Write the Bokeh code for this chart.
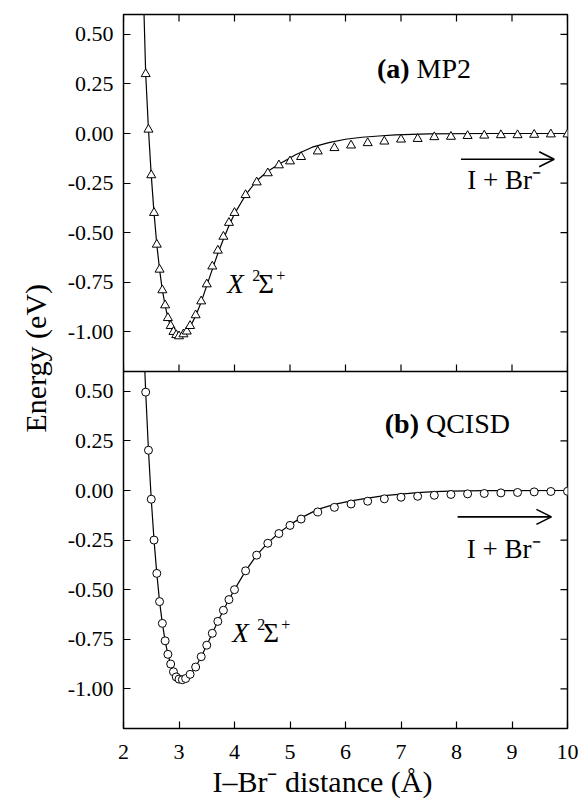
from bokeh.plotting import figure
from bokeh.models import (Range1d, LinearAxis, FixedTicker, CustomJSTickFormatter,
                          Span, Arrow, OpenHead, Title)
from bokeh.core.properties import value
from bokeh.embed import file_html
from bokeh.resources import INLINE

FONT = "Liberation Serif"

# ---------------- data ----------------
X_TICKS = [2, 3, 4, 5, 6, 7, 8, 9, 10]
E_TICKS = [-1.0, -0.75, -0.5, -0.25, 0.0, 0.25, 0.5]
X_MIN, X_MAX = 2.0, 10.0
E_MIN, E_MAX = -1.2, 0.6

# (a) MP2 points (triangles)
mp2_r = [2.40, 2.45, 2.50, 2.55, 2.60, 2.65, 2.70, 2.75, 2.80, 2.85, 2.90, 2.95, 3.00,
         3.08, 3.14, 3.20, 3.30, 3.40, 3.50, 3.60, 3.70, 3.80, 3.90, 4.00,
         4.20, 4.40, 4.60, 4.80, 5.00, 5.20,
         5.50, 5.80, 6.10, 6.40, 6.70, 7.00, 7.30, 7.60, 7.90, 8.20, 8.50, 8.80,
         9.10, 9.40, 9.70, 10.00]
mp2_e = [0.30, 0.02, -0.21, -0.40, -0.56, -0.686, -0.79, -0.866, -0.93, -0.97, -1.00, -1.016, -1.022,
         -1.012, -0.998, -0.97, -0.916, -0.846, -0.76, -0.67, -0.59, -0.52, -0.45, -0.40,
         -0.31, -0.246, -0.20, -0.16, -0.14, -0.118,
         -0.09, -0.073, -0.06, -0.048, -0.04, -0.03, -0.027, -0.018, -0.016, -0.012, -0.01, -0.008,
         -0.008, -0.006, -0.004, -0.004]
# (a) MP2 fitted curve
mp2_fit_r = [2.37, 2.40, 2.45, 2.50, 2.55, 2.60, 2.65, 2.70, 2.75, 2.80, 2.85, 2.90, 2.95, 3.00,
             3.05, 3.10, 3.20, 3.30, 3.40, 3.50, 3.60, 3.70, 3.80, 3.90, 4.00,
             4.20, 4.40, 4.60, 4.80, 5.10, 5.40, 5.70, 6.00, 6.30, 6.60, 6.90, 7.50, 8.50, 10.00]
mp2_fit_e = [0.60, 0.30, 0.02, -0.21, -0.40, -0.56, -0.686, -0.79, -0.866, -0.93, -0.972, -1.003,
             -1.02, -1.027, -1.024, -1.012, -0.975, -0.92, -0.85, -0.767, -0.685, -0.605, -0.533,
             -0.465, -0.405, -0.31, -0.238, -0.19, -0.155, -0.107, -0.069, -0.046, -0.029,
             -0.019, -0.0125, -0.007, -0.002, 0.0, 0.0]

# (b) QCISD points (circles)
qc_r = [2.40, 2.45, 2.50, 2.55, 2.60, 2.65, 2.70, 2.75, 2.80, 2.85, 2.90, 2.95, 3.00,
        3.06, 3.12, 3.20, 3.30, 3.40, 3.50, 3.60, 3.70, 3.80, 3.90, 4.00,
        4.20, 4.40, 4.60, 4.80, 5.00, 5.20,
        5.50, 5.80, 6.10, 6.40, 6.70, 7.00, 7.30, 7.60, 7.90, 8.20, 8.50, 8.80,
        9.10, 9.40, 9.70, 10.00]
qc_e = [0.496, 0.203, -0.044, -0.25, -0.418, -0.56, -0.67, -0.758, -0.826, -0.875, -0.914, -0.94, -0.951,
        -0.954, -0.948, -0.927, -0.89, -0.838, -0.78, -0.72, -0.66, -0.604, -0.55, -0.50,
        -0.405, -0.326, -0.266, -0.217, -0.176, -0.144,
        -0.108, -0.085, -0.068, -0.054, -0.042, -0.034, -0.029, -0.024, -0.020, -0.017, -0.015, -0.012,
        -0.010, -0.007, -0.005, -0.004]
# (b) QCISD fitted curve
qc_fit_r = [2.385, 2.40, 2.45, 2.50, 2.55, 2.60, 2.65, 2.70, 2.75, 2.80, 2.85, 2.90, 2.95, 3.00,
            3.05, 3.10, 3.20, 3.30, 3.40, 3.50, 3.60, 3.70, 3.80, 3.90, 4.00,
            4.20, 4.40, 4.60, 4.80, 5.00, 5.20, 5.50, 5.80, 6.10, 6.40, 6.70, 7.00, 7.30,
            7.60, 7.90, 8.50, 10.00]
qc_fit_e = [0.60, 0.496, 0.203, -0.044, -0.25, -0.418, -0.56, -0.67, -0.758, -0.826, -0.875, -0.914,
            -0.94, -0.952, -0.955, -0.95, -0.927, -0.89, -0.838, -0.78, -0.72, -0.66, -0.604,
            -0.55, -0.50, -0.405, -0.326, -0.264, -0.214, -0.172, -0.138, -0.095, -0.07,
            -0.052, -0.038, -0.026, -0.018, -0.011, -0.006, -0.003, -0.001, 0.0]

# ---------------- figure ----------------
SPAN = E_MAX - E_MIN
W, H = 578, 802
ML, MR, MT, MB = 123, 11, 14, 74
p = figure(width=W, height=H, output_backend="svg", toolbar_location=None,
           x_range=Range1d(X_MIN, X_MAX), y_range=Range1d(E_MIN, E_MAX + SPAN),
           x_axis_location=None, y_axis_location=None,
           min_border_left=ML, min_border_right=MR, min_border_top=MT, min_border_bottom=MB)
p.extra_y_ranges = {"top": Range1d(E_MIN - SPAN, E_MAX)}
p.xgrid.grid_line_color = None
p.ygrid.grid_line_color = None
p.outline_line_color = "black"
p.outline_line_width = 1.5
p.background_fill_color = "white"
p.border_fill_color = "white"

TICK_IN = 7
frame_w = W - ML - MR
frame_h = H - MT - MB
tick_dx = (X_MAX - X_MIN) / frame_w * TICK_IN
tick_dy = 2 * (E_MAX - E_MIN) / frame_h * TICK_IN


def style_axis(ax):
    ax.major_tick_in = TICK_IN
    ax.major_tick_out = 0
    ax.major_tick_line_color = "black"
    ax.major_tick_line_width = 1.2
    ax.minor_tick_line_color = None
    ax.axis_line_color = None
    ax.major_label_text_font = FONT
    ax.major_label_text_font_style = "normal"
    ax.major_label_text_color = "black"


y_all_ticks = E_TICKS + [t + SPAN for t in E_TICKS]
fmt = CustomJSTickFormatter(args=dict(span=SPAN, split=E_MAX),
                            code="const v = tick > split + 1e-9 ? tick - span : tick; return v.toFixed(2);")

bottom = LinearAxis(ticker=FixedTicker(ticks=X_TICKS))
style_axis(bottom)
bottom.major_label_text_font_size = "22px"
bottom.major_label_standoff = 16
p.add_layout(bottom, "below")

left = LinearAxis(ticker=FixedTicker(ticks=y_all_ticks), formatter=fmt)
style_axis(left)
left.major_label_text_font_size = "22px"
left.major_label_standoff = 10
p.add_layout(left, "left")

# axis titles
xt = Title(text="I\u2013Br\u207b distance (\u00c5)", align="left", offset=89,
           text_font=FONT, text_font_size="30px", text_font_style="normal",
           text_color="black", standoff=2)
p.add_layout(xt, "below")
yt = Title(text="Energy (eV)", align="left", offset=296,
           text_font=FONT, text_font_size="30px", text_font_style="normal",
           text_color="black", standoff=26)
p.add_layout(yt, "left")

# inward ticks on the top and right frame edges, and on the panel boundary
p.segment(x0=X_TICKS, y0=[E_MAX] * len(X_TICKS), x1=X_TICKS,
          y1=[E_MAX - tick_dy] * len(X_TICKS), line_color="black", line_width=1.2,
          y_range_name="top")
p.segment(x0=X_TICKS, y0=[E_MAX] * len(X_TICKS), x1=X_TICKS,
          y1=[E_MAX + tick_dy] * len(X_TICKS), line_color="black", line_width=1.2)
p.segment(x0=[X_MAX] * len(y_all_ticks), y0=y_all_ticks, x1=[X_MAX - tick_dx] * len(y_all_ticks),
          y1=y_all_ticks, line_color="black", line_width=1.2)
p.add_layout(Span(location=E_MAX, dimension="width", line_color="black", line_width=1.5))

# ---------------- curves and points ----------------
p.line(mp2_fit_r, mp2_fit_e, line_color="black", line_width=1.2, y_range_name="top")
p.scatter(mp2_r, mp2_e, marker="triangle", size=9, line_color="black", line_width=1,
          fill_color="white", y_range_name="top")

p.line(qc_fit_r, qc_fit_e, line_color="black", line_width=1.2)
p.scatter(qc_r, qc_e, marker="circle", size=8, line_color="black", line_width=1,
          fill_color="white")


# ---------------- annotations ----------------
def txt(x, y, s, size, style="normal", align="left", rng="default", xoff=0):
    p.text(x=[x], y=[y], text=[s], text_font=value(FONT), text_font_size=value(f"{size}px"),
           text_font_style=value(style), text_align=value(align),
           text_baseline=value("alphabetic"), text_color="black", y_range_name=rng, x_offset=xoff)


# panel titles
txt(7.28, 0.33, "(a)", 28, "bold", "right", "top", -7)
txt(7.28, 0.33, "MP2", 28, "normal", "left", "top")
txt(7.45, 0.34, "(b)", 28, "bold", "right", "default", -7)
txt(7.45, 0.34, "QCISD", 28, "normal", "left", "default")

# state labels X 2Sigma+
for (x0, y0, rng) in [(3.87, -0.76, "top"), (3.96, -0.72, "default")]:
    txt(x0, y0, "X", 27, "italic", "left", rng)
    txt(x0, y0 + 0.045, "2", 16, "normal", "left", rng, 25)
    txt(x0, y0, "\u03a3", 27, "normal", "left", rng, 31)
    txt(x0, y0 + 0.045, "+", 16, "normal", "left", rng, 49)

# dissociation arrows and labels
p.add_layout(Arrow(x_start=8.08, y_start=-0.13, x_end=9.76, y_end=-0.13, line_width=1.6,
                   end=OpenHead(size=15, line_width=1.6), y_range_name="top"))
txt(8.86, -0.2325, "I + Br\u207b", 27, "normal", "center", "top")
p.add_layout(Arrow(x_start=8.02, y_start=-0.133, x_end=9.71, y_end=-0.133, line_width=1.6,
                   end=OpenHead(size=15, line_width=1.6)))
txt(8.85, -0.293, "I + Br\u207b", 27, "normal", "center", "default")

open("out.html", "w").write(file_html(p, INLINE))
